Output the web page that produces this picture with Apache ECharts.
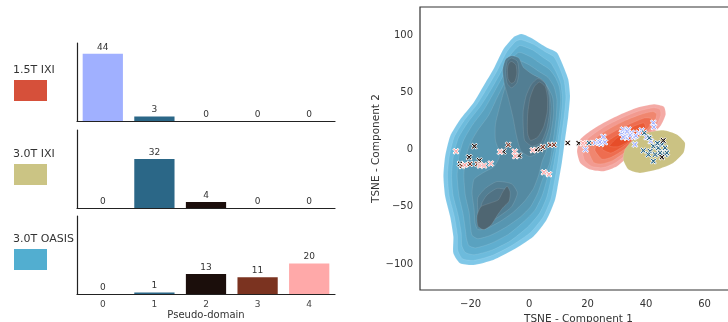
<!DOCTYPE html>
<html>
<head>
<meta charset="utf-8">
<script src="https://cdn.jsdelivr.net/npm/echarts@6/dist/echarts.min.js"></script>
<style>
  html, body { margin: 0; padding: 0; background: #fff; }
  #chart { width: 728px; height: 322px; }
</style>
</head>
<body>
<div id="chart"></div>
<script>
// bar chart data (counts per pseudo-domain)
const categories = ['0', '1', '2', '3', '4']
const counts15IXI = [44, 3, 0, 0, 0]
const counts30IXI = [0, 32, 4, 0, 0]
const counts30OASIS = [0, 1, 13, 11, 20]
const domainColors = ['#a0b0ff', '#2b6787', '#1b0e0b', '#7b3320', '#ffa9a9']
const datasetNames = ['1.5T IXI', '3.0T IXI', '3.0T OASIS']
const datasetColors = ['#d6503a', '#cbc484', '#52aed0']

// tsne tick labels
const tsneXTicks = [-20, 0, 20, 40, 60]
const tsneYTicks = [-100, -50, 0, 50, 100]

// tsne points per pseudo-domain
const pts0 = [[19.3,0],[22.6,5.8],[23.7,7.3],[24.6,5],[25.4,11.1],[25.9,6.4],[24.2,6.6],[31.7,14.6],[32.2,17.5],[34,17.5],[35.1,14.6],[32.8,13.8],[33.4,10.2],[35.7,10.8],[36.2,4.4],[37.4,14.6],[38.5,16.7],[40.2,10.8],[41.6,7.3],[42.5,23.4],[42.7,19.6],[32.2,10.8],[34.5,12.5],[36.5,12],[33.5,15.8]]
const pts1 = [[20.5,5.8],[39.4,14.6],[41.1,10.2],[42.5,2.9],[44.2,1.5],[45.4,4.4],[46.5,1.5],[39.1,-0.9],[41.4,-1.5],[43.1,-4.4],[44.8,-2.9],[40.8,-4.4],[46.5,-4.4],[42.5,-10.2],[47.1,-2.9],[43.9,5.5]]
const pts2 = [[-18.7,2.9],[-20.5,-6.7],[-23.6,-12.5],[-17,-9.6],[-8.8,-1.8],[-3.4,-5.3],[2.4,-0.3],[3.8,0.3],[13.2,5.8],[17,5.5],[45.9,7.9],[45.4,-6.7]]
const pts3 = [[-23,-14.5],[-20.2,-12.6],[-17.7,-12.6],[-7.1,4.1],[4.7,2.3],[7.2,4.1],[8.5,4.1]]
const pts4 = [[-25,-1.5],[-22,-13.5],[-16.8,-14],[-15.4,-14],[-13.1,-12.3],[-9.9,-2],[-4.9,-1.8],[-4.7,-5.8],[1.3,-0.6],[5.1,-19.9],[6.8,-21.6],[18.4,5.5]]

// kde contour levels (outer -> inner)
const blueLevels = [
  [[-2.5,100.9],[1.5,96.5],[6,89.2],[9.5,84.8],[11.7,73.1],[13.4,61.4],[14,46.8],[13.4,29.2],[12.3,8.8],[11.2,-11.7],[10,-29.2],[8.9,-43.9],[6,-61.4],[1.5,-76],[-5.4,-87.7],[-12.2,-96.5],[-19,-100.9],[-23.6,-99.4],[-25.9,-90.6],[-25.9,-76],[-27,-58.5],[-28.7,-41],[-29.3,-23.4],[-28.7,-5.9],[-27,11.7],[-23.6,26.3],[-19,41],[-15.6,55.6],[-12.2,70.2],[-8.8,87.7],[-5.4,98]],
  [[-2.8,96],[1.5,92],[5.5,85.5],[8.5,81],[10.5,71],[12,60],[12.6,46],[12,29],[10.9,9],[9.8,-12],[8.6,-29],[7.5,-43],[4.8,-59],[0.5,-72.5],[-6,-84],[-12.5,-92.5],[-19,-97],[-22.8,-95.5],[-24.4,-88],[-24.5,-75],[-25.6,-58],[-27.3,-41],[-27.9,-23],[-27.3,-6],[-25.6,11],[-22.3,25],[-17.8,39.5],[-14.3,54],[-11,68.5],[-7.6,85.5],[-4.6,94.5]],
  [[-3,91],[1.2,87],[4.8,80.5],[7.3,76],[9.2,68],[10.8,58],[11.4,45],[11,29],[9.9,9],[8.5,-12],[7.3,-28],[6,-42],[3.5,-56],[-0.6,-68],[-6.5,-80],[-12.8,-88],[-18.8,-92],[-21.8,-90],[-23,-84],[-23.2,-73],[-24.3,-57],[-26,-40],[-26.5,-23],[-25.9,-6],[-24.2,10],[-21,23.5],[-16.6,38],[-13,52.5],[-9.8,67],[-6.6,82],[-4.2,89]],
  [[-3.5,85],[0.5,81],[4,75],[7,70],[9,63],[10.3,55],[10.8,44],[10.3,29],[9.3,9],[7.6,-12],[6,-27],[4.5,-40],[2,-53],[-1.8,-63],[-7,-74],[-13,-82],[-18.3,-86],[-20.6,-84],[-21.4,-78],[-21.8,-70],[-22.6,-56],[-24,-40],[-24.6,-23],[-24,-6],[-22.4,8],[-19.5,21],[-15.4,35],[-12,50],[-9,64],[-6.2,78]],
  [[-4,78],[0,74],[3.5,68],[6.5,63],[8.5,55],[9.5,44],[9.3,29],[8.3,9],[7,-12],[4.6,-26],[3,-38],[0.5,-50],[-3,-59],[-8,-68],[-13.2,-75],[-17.5,-78],[-19.5,-75],[-20,-68],[-20.5,-55],[-21.8,-40],[-22.3,-23],[-21.8,-8],[-20.2,5],[-17.5,17],[-13.8,30],[-11,45],[-8.5,58],[-6.3,70]],
  [[-4.5,72],[-0.5,67],[3,63],[6,56],[8,46],[8.4,32],[7.4,14],[5.8,-2],[4.5,-10],[3.3,-22],[1.5,-34],[-1.5,-45],[-5.5,-55],[-10,-63],[-14.5,-69],[-17.5,-70],[-18.5,-64],[-18.8,-52],[-19.5,-38],[-18.8,-26],[-15.5,-20],[-12,-15],[-10,-5],[-11.5,8],[-11.5,22],[-10,38],[-8.5,52],[-6.8,64]],
  [[-6,82],[-3.5,80],[-2,72],[1,66],[4.5,61],[6.7,52],[7.5,38],[7,20],[5,5],[2.5,-4],[0,-6],[-2.8,-1],[-4.3,12],[-5.5,28],[-7,44],[-8.5,58],[-9,70],[-8,79]],
  [[-6,-30],[-4,-38],[-6,-50],[-10,-58],[-14,-64],[-17,-64],[-17.5,-55],[-17.5,-42],[-15,-34],[-11,-28]],
  [[-6,80],[-4,77],[-3.5,68],[-4.2,58],[-6,54],[-7.5,58],[-8,68],[-7.5,77]],
  [[3,62],[5.5,58],[6.8,47],[7,33],[6,18],[4,6],[1,3],[-1.5,8],[-2,20],[-2,34],[-1,47],[0.8,57]],
  [[-7,-36],[-7.5,-46],[-10.5,-54],[-14,-60],[-16.2,-58],[-16.3,-48],[-14.5,-40],[-11,-34]],
  [[-6,77],[-4.5,74],[-4.2,66],[-5,59],[-6.2,58],[-7.2,62],[-7.4,70],[-7,75]],
  [[3.5,59],[5.5,55],[6.3,45],[6.2,33],[5,20],[3,11],[0.5,8],[-0.5,14],[-0.5,30],[0.3,45],[1.8,55]],
  [[-7.5,-32],[-6.5,-37],[-6.8,-45],[-9,-51],[-11,-58],[-13,-66],[-15.5,-70],[-17.5,-67],[-17.8,-58],[-16.5,-50],[-13.5,-47],[-10.5,-44],[-9,-37]]
]
const blueColors = ['#80c8e8', '#6dbbdc', '#60aecf', '#5aa2c0', '#5796b1', '#548aa2', '#527e93', '#527e93', '#507284', '#507284', '#507284', '#4f6672', '#4f6672', '#4f6672']

const redLevels = [
  [[16.4,-1.5],[17.5,8.8],[20.9,16.1],[25.5,23.4],[31.2,30.7],[36.9,36.5],[42.6,39.5],[46.1,37.4],[46.7,30.7],[44.9,20.5],[40,8],[35,-4],[30.1,-14.6],[25.5,-19],[20.9,-17.5],[17.5,-11.7]],
  [[18.3,-1.5],[19.3,7.5],[22.3,14],[26.5,21],[32,28],[37.3,33.5],[42.5,36.5],[44.8,35],[45,29.5],[43.3,20],[38.7,8],[34,-3],[29.3,-12],[25.3,-15.8],[21.5,-14.8],[19,-9.5]],
  [[20.3,-1],[21.3,6.5],[24,12.5],[28,19],[33,25.5],[38,30.5],[42.3,33.2],[43.6,31.2],[43.2,26],[41.5,18.5],[37.5,7.5],[33,-2],[28.7,-9.5],[25,-12.5],[22.2,-11.5]],
  [[22.5,-0.5],[23.5,5.5],[26,11],[30,17],[35,23],[39.5,27.5],[41.8,27],[41,20],[37,9],[32.5,0],[28.3,-6.5],[25,-8.5]],
  [[25,0.5],[27,7.5],[31,14],[35.5,20],[39.2,23.2],[39.8,19],[36.2,10],[32,2.5],[28,-3]],
  [[27.5,3],[30,10],[34,15],[37,16.5],[37.2,12.5],[34,7],[30.5,2.5]]
]
const redColors = ['#f4aaa5', '#f29a90', '#f0866f', '#ee6d50', '#eb5a36', '#e64d29']

const oliveLevels = [
  [[32.2,-8.8],[32.8,0],[35.7,8.8],[40.2,14.6],[45.9,16.9],[50.5,13.2],[53.3,5.9],[52.8,-2.9],[49.3,-11.7],[43.7,-17.5],[37.9,-20.5],[34,-17.5]]
]
const oliveColors = ['#cbc283']

const font = 'DejaVu Sans'
const xMark = 'path://M0,2 L2,0 L5,3 L8,0 L10,2 L7,5 L10,8 L8,10 L5,7 L2,10 L0,8 L3,5 Z'
const minus = v => String(v).replace('-', '\u2212')

const chart = echarts.init(document.getElementById('chart'))

// one small bar panel per dataset
const barTops = [43, 130, 216]
const barData = [counts15IXI, counts30IXI, counts30OASIS]

const grids = barTops.map(t => ({ left: 77, top: t, width: 258, height: 78, outerBoundsMode: 'none' }))
grids.push({ left: 420, top: 7, height: 283, width: 317, show: true, borderColor: '#333', borderWidth: 1.2, outerBoundsMode: 'none' })

const xAxes = barTops.map((t, i) => ({
  type: 'category', gridIndex: i, data: categories,
  axisLine: { lineStyle: { color: '#222', width: 1.2 } },
  axisTick: { show: false },
  axisLabel: { show: i === 2, color: '#444', fontSize: 9, fontFamily: font, margin: 6 },
  name: i === 2 ? 'Pseudo-domain' : '', nameLocation: 'middle', nameGap: 16,
  nameTextStyle: { color: '#333', fontSize: 10, fontFamily: font }
}))
xAxes.push({
  type: 'value', gridIndex: 3, min: -37.3, max: 71.1,
  axisLine: { show: false }, axisTick: { show: false }, splitLine: { show: false },
  axisLabel: { customValues: tsneXTicks, formatter: minus, color: '#333', fontSize: 10, fontFamily: font, margin: 9 },
  name: 'TSNE - Component 1', nameLocation: 'middle', nameGap: 17,
  nameTextStyle: { color: '#333', fontSize: 10.5, fontFamily: font }
})

const yAxes = barTops.map((t, i) => ({
  type: 'value', gridIndex: i, min: 0, max: 51,
  axisLine: { show: true, lineStyle: { color: '#222', width: 1.2 } },
  axisTick: { show: false }, axisLabel: { show: false }, splitLine: { show: false }
}))
yAxes.push({
  type: 'value', gridIndex: 3, min: -122.8, max: 124.6,
  axisLine: { show: false }, axisTick: { show: false }, splitLine: { show: false },
  axisLabel: { customValues: tsneYTicks, formatter: minus, color: '#333', fontSize: 10, fontFamily: font, margin: 7 },
  name: 'TSNE - Component 2', nameLocation: 'middle', nameGap: 37,
  nameTextStyle: { color: '#333', fontSize: 10.5, fontFamily: font }
})

const series = barData.map((vals, i) => ({
  type: 'bar', xAxisIndex: i, yAxisIndex: i, barCategoryGap: '22%',
  data: vals.map((v, k) => ({ value: v, itemStyle: { color: domainColors[k] } })),
  label: { show: true, position: 'top', distance: 2, color: '#333', fontSize: 9, fontFamily: font }
}))

function contour(points, color, z) {
  return {
    type: 'custom', xAxisIndex: 3, yAxisIndex: 3, silent: true, z: z, clip: true,
    data: points,
    renderItem: (params, api) => {
      if (params.dataIndex !== 0) return
      return {
        type: 'polygon',
        shape: { points: points.map(p => api.coord(p)), smooth: 0.2 },
        style: { fill: color, stroke: 'rgba(255,255,255,0.18)', lineWidth: 0.6 }
      }
    }
  }
}

redLevels.forEach((p, i) => series.push(contour(p, redColors[i], 2)))
oliveLevels.forEach((p, i) => series.push(contour(p, oliveColors[i], 2)))
blueLevels.forEach((p, i) => series.push(contour(p, blueColors[i], 2)))

;[pts0, pts1, pts2, pts3, pts4].forEach((pts, i) => {
  series.push({
    type: 'scatter', xAxisIndex: 3, yAxisIndex: 3, z: 5,
    symbol: xMark, symbolSize: 6, data: pts,
    itemStyle: { color: domainColors[i], borderColor: '#fff', borderWidth: 1, opacity: 1 }
  })
})

// dataset labels with colour swatches on the left
const rectTops = [80, 164, 249]
const graphic = []
datasetNames.forEach((name, i) => {
  graphic.push({
    type: 'text', left: 13, top: rectTops[i] - 15,
    style: { text: name, fill: '#333', font: '11px "DejaVu Sans"' }
  })
  graphic.push({
    type: 'rect', left: 14, top: rectTops[i],
    shape: { width: 33, height: 21 },
    style: { fill: datasetColors[i] }
  })
})

chart.setOption({
  animation: false,
  grid: grids,
  xAxis: xAxes,
  yAxis: yAxes,
  series: series,
  graphic: graphic
})
</script>
</body>
</html>
